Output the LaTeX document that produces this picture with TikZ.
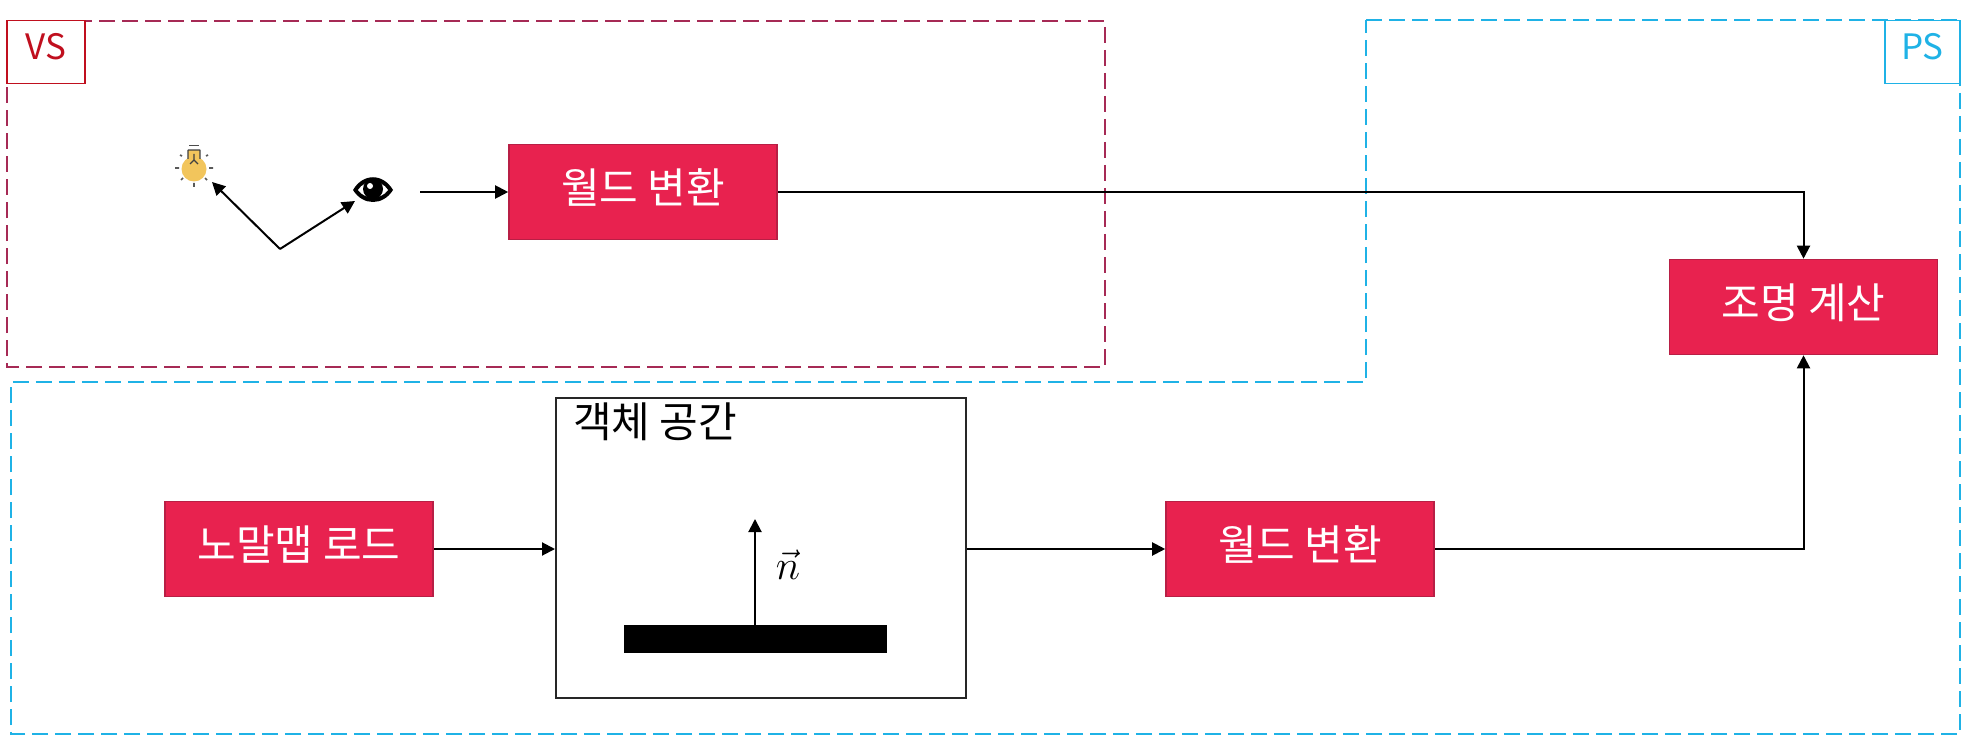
\documentclass[tikz,border=0pt]{standalone}
\usepackage{fontspec}
\setmainfont{Noto Sans CJK KR}
\usetikzlibrary{arrows.meta}
\definecolor{boxred}{HTML}{E8224F}
\definecolor{boxedge}{HTML}{B81F45}
\definecolor{vsdash}{HTML}{A62A55}
\definecolor{vsred}{HTML}{C00F1E}
\definecolor{psblue}{HTML}{1FB2E6}
\definecolor{bulbyellow}{HTML}{F2C55C}
\tikzset{
  x=0.5pt,y=-0.5pt,
  redbox/.style={draw=boxedge,fill=boxred,line width=0.8pt,minimum width=134pt,minimum height=47.5pt,inner sep=0pt,text=white,font=\fontsize{21}{24}\selectfont},
  conn/.style={draw=black,line width=1pt,-{Triangle[length=6.5pt,width=6.5pt]}},
  vsregion/.style={draw=vsdash,line width=1.4pt,dash pattern=on 8pt off 3.5pt},
  psregion/.style={draw=psblue,line width=1.4pt,dash pattern=on 8pt off 3.5pt},
  tagbox/.style={line width=0.8pt,inner sep=0pt,minimum width=39pt,minimum height=31.5pt,fill=white,font=\fontsize{17.5}{20}\selectfont},
}
\begin{document}
\begin{tikzpicture}
\useasboundingbox (0,0) rectangle (1969,743);
\fill[white] (0,0) rectangle (1969,743);
% regions
\draw[vsregion] (7,21) -- (1105,21) -- (1105,367) -- (7,367) -- cycle;
\draw[psregion] (1366,20) -- (1960,20) -- (1960,734) -- (11,734) -- (11,382) -- (1366,382) -- cycle;
% tags
\node[tagbox,draw=vsred,text=vsred] (vstag) at (46,52) {\raisebox{5.5pt}{VS}};
\node[tagbox,draw=psblue,text=psblue,minimum width=37.5pt] (pstag) at (1922.5,52) {\raisebox{5.5pt}{PS}};
% boxes
\node[redbox] (wt) at (643,192) {\raisebox{6pt}{월드 변환}};
\node[redbox] (light) at (1803.5,307) {\raisebox{6pt}{조명 계산}};
\node[redbox] (nm) at (299,549) {\raisebox{6pt}{노말맵 로드}};
\node[redbox] (wb) at (1300,549) {\raisebox{6pt}{월드 변환}};
\node[draw=black!85,line width=1pt,minimum width=205pt,minimum height=150pt,inner sep=0pt] (obj) at (761,548) {};
\node[font=\fontsize{21}{24}\selectfont,inner sep=0pt] (objtitle) at (655,422) {객체 공간};
\node[fill=black,minimum width=131.5pt,minimum height=14pt,inner sep=0pt] (plate) at (755.5,639) {};
\coordinate (ntip) at (755,519);
\node[inner sep=0pt] (nlabel) at (788,565) {\fontsize{20.74}{24}\selectfont$\vec{n}$};
% bulb
\coordinate (bulb) at (194,168);
\begin{scope}[shift={(bulb)}]
  \fill[black!70] (-5,-23) rectangle (5,-21.5);
  \fill[bulbyellow] (0,1) circle[radius=12.5];
  \fill[bulbyellow] (-6,-18) rectangle (6,-5);
  \draw[black!75,line width=0.7pt] (-6,-18) -- (6,-18) (-6,-18) -- (-6,-9) (6,-18) -- (6,-9) (0,-14) -- (0,-8) (0,-8) -- (-4,-4) (0,-8) -- (4,-4);
  \draw[black!65,line width=0.8pt] (-19,0) -- (-15,0) (15,0) -- (19,0) (0,15) -- (0,19) (-14,-13) -- (-12,-12) (14,-13) -- (12,-12) (-13,12) -- (-11,10) (13,12) -- (11,10);
\end{scope}
% eye
\coordinate (eye) at (373,190);
\begin{scope}[shift={(eye)}]
  \fill[black] (-20,0) .. controls (-10,-17) and (10,-17) .. (20,0) .. controls (10,16) and (-10,16) .. (-20,0) -- cycle;
  \fill[white] (-15,0) .. controls (-8,-11) and (8,-11) .. (15,0) .. controls (8,10) and (-8,10) .. (-15,0) -- cycle;
  \fill[black] (0,-1) circle[radius=10];
  \fill[white] (-3,-4) circle[radius=3];
\end{scope}
% connectors
\coordinate (vfrom) at (280,249);
\coordinate (vlight) at (212,182);
\coordinate (veye) at (355,201);
\coordinate (eyeout) at (420,192);
\draw[conn] (vfrom) -- (vlight);
\draw[conn] (vfrom) -- (veye);
\draw[conn] (eyeout) -- (eyeout -| wt.west);
\draw[conn] (wt.east |- eyeout) -| (light.north);
\draw[conn] (nm.east) -- (nm.east -| obj.west);
\draw[conn] (obj.east |- wb.west) -- (wb.west);
\draw[conn] (wb.east) -| (light.south);
\draw[conn] (ntip |- plate.north) -- (ntip);
\end{tikzpicture}
\end{document}
